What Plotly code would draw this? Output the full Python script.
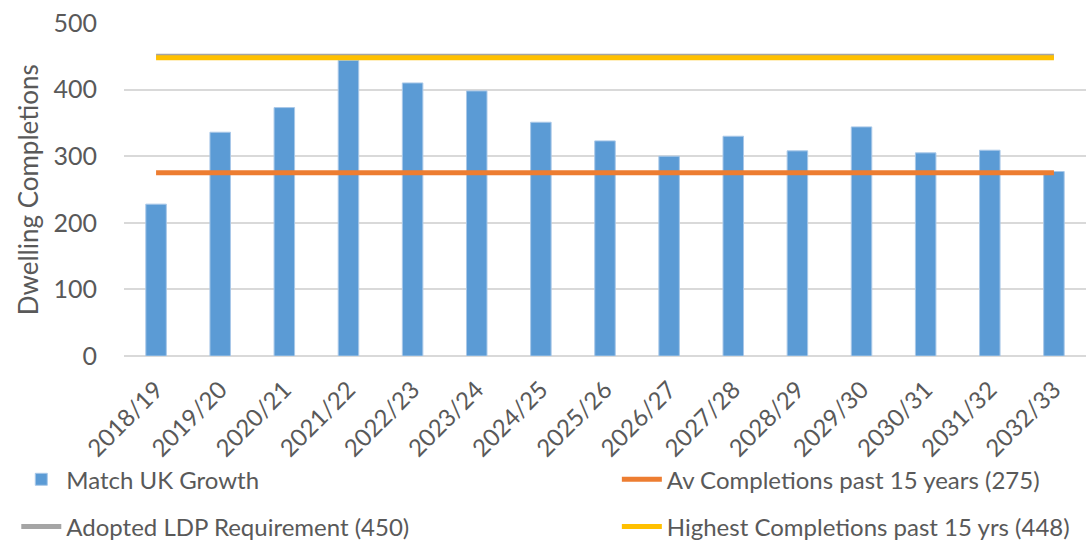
import plotly.graph_objects as go

categories = ["2018/19", "2019/20", "2020/21", "2021/22", "2022/23", "2023/24", "2024/25",
              "2025/26", "2026/27", "2027/28", "2028/29", "2029/30", "2030/31", "2031/32", "2032/33"]
match_uk_growth = [228, 336, 373, 444, 410, 398, 351, 323, 300, 330, 308, 344, 305, 309, 277]
av_completions = [275] * len(categories)
adopted_ldp = [450] * len(categories)
highest_completions = [448] * len(categories)
y_ticks = [0, 100, 200, 300, 400, 500]
y_title = "Dwelling Completions"

FONT = "Lato, Open Sans, sans-serif"
TXT = "#595959"

fig = go.Figure()
fig.add_trace(go.Bar(x=categories, y=match_uk_growth, name="Match UK Growth",
                     marker=dict(color="#5b9bd5", line=dict(color="#a9c8e8", width=1)),
                     width=0.32, legend="legend", legendgroup="a"))
fig.add_trace(go.Scatter(x=categories, y=av_completions, name="Av Completions past 15 years (275)",
                         mode="lines", line=dict(color="#ed7d31", width=5),
                         legend="legend2", legendgroup="b"))
fig.add_trace(go.Scatter(x=categories, y=adopted_ldp, name="Adopted LDP Requirement (450)",
                         mode="lines", line=dict(color="#a5a5a5", width=5),
                         legend="legend", legendgroup="c"))
fig.add_trace(go.Scatter(x=categories, y=highest_completions, name="Highest Completions past 15 yrs (448)",
                         mode="lines", line=dict(color="#ffc000", width=5),
                         legend="legend2", legendgroup="d"))

leg_common = dict(orientation="v", xref="container", yref="container", xanchor="left", yanchor="top",
                  font=dict(size=24, color=TXT), traceorder="grouped", itemwidth=40,
                  tracegroupgap=13, bgcolor="rgba(0,0,0,0)")

fig.update_layout(
    width=1086, height=543,
    margin=dict(l=124, r=0, t=23, b=187, autoexpand=False),
    plot_bgcolor="white", paper_bgcolor="white",
    font=dict(family=FONT, color=TXT, size=21),
    showlegend=True,
    legend=dict(x=0.015, y=0.158, **leg_common),
    legend2=dict(x=0.568, y=0.158, **leg_common),
)
fig.add_annotation(text=y_title, xref="paper", yref="paper", x=-0.1, y=0.5,
                   textangle=-90, showarrow=False, xanchor="center", yanchor="middle",
                   font=dict(size=26, color=TXT, family=FONT))
fig.update_xaxes(type="category", tickangle=-45, tickfont=dict(size=24, color=TXT),
                 tickmode="array", tickvals=categories, ticktext=categories, ticklabelstandoff=14,
                 showgrid=False, showline=False, ticks="", range=[-0.5, 14.5])
fig.update_yaxes(range=[0, 500], tickvals=y_ticks, tickfont=dict(size=25, color=TXT),
                 showgrid=True, gridcolor="#d9d9d9", gridwidth=1.5, zeroline=True,
                 zerolinecolor="#d9d9d9", zerolinewidth=1.5, ticks="", ticklabelstandoff=26)

fig.write_html("out.html", config={"displayModeBar": False},
               post_script="document.body.style.margin='0';document.body.style.overflow='hidden';")
